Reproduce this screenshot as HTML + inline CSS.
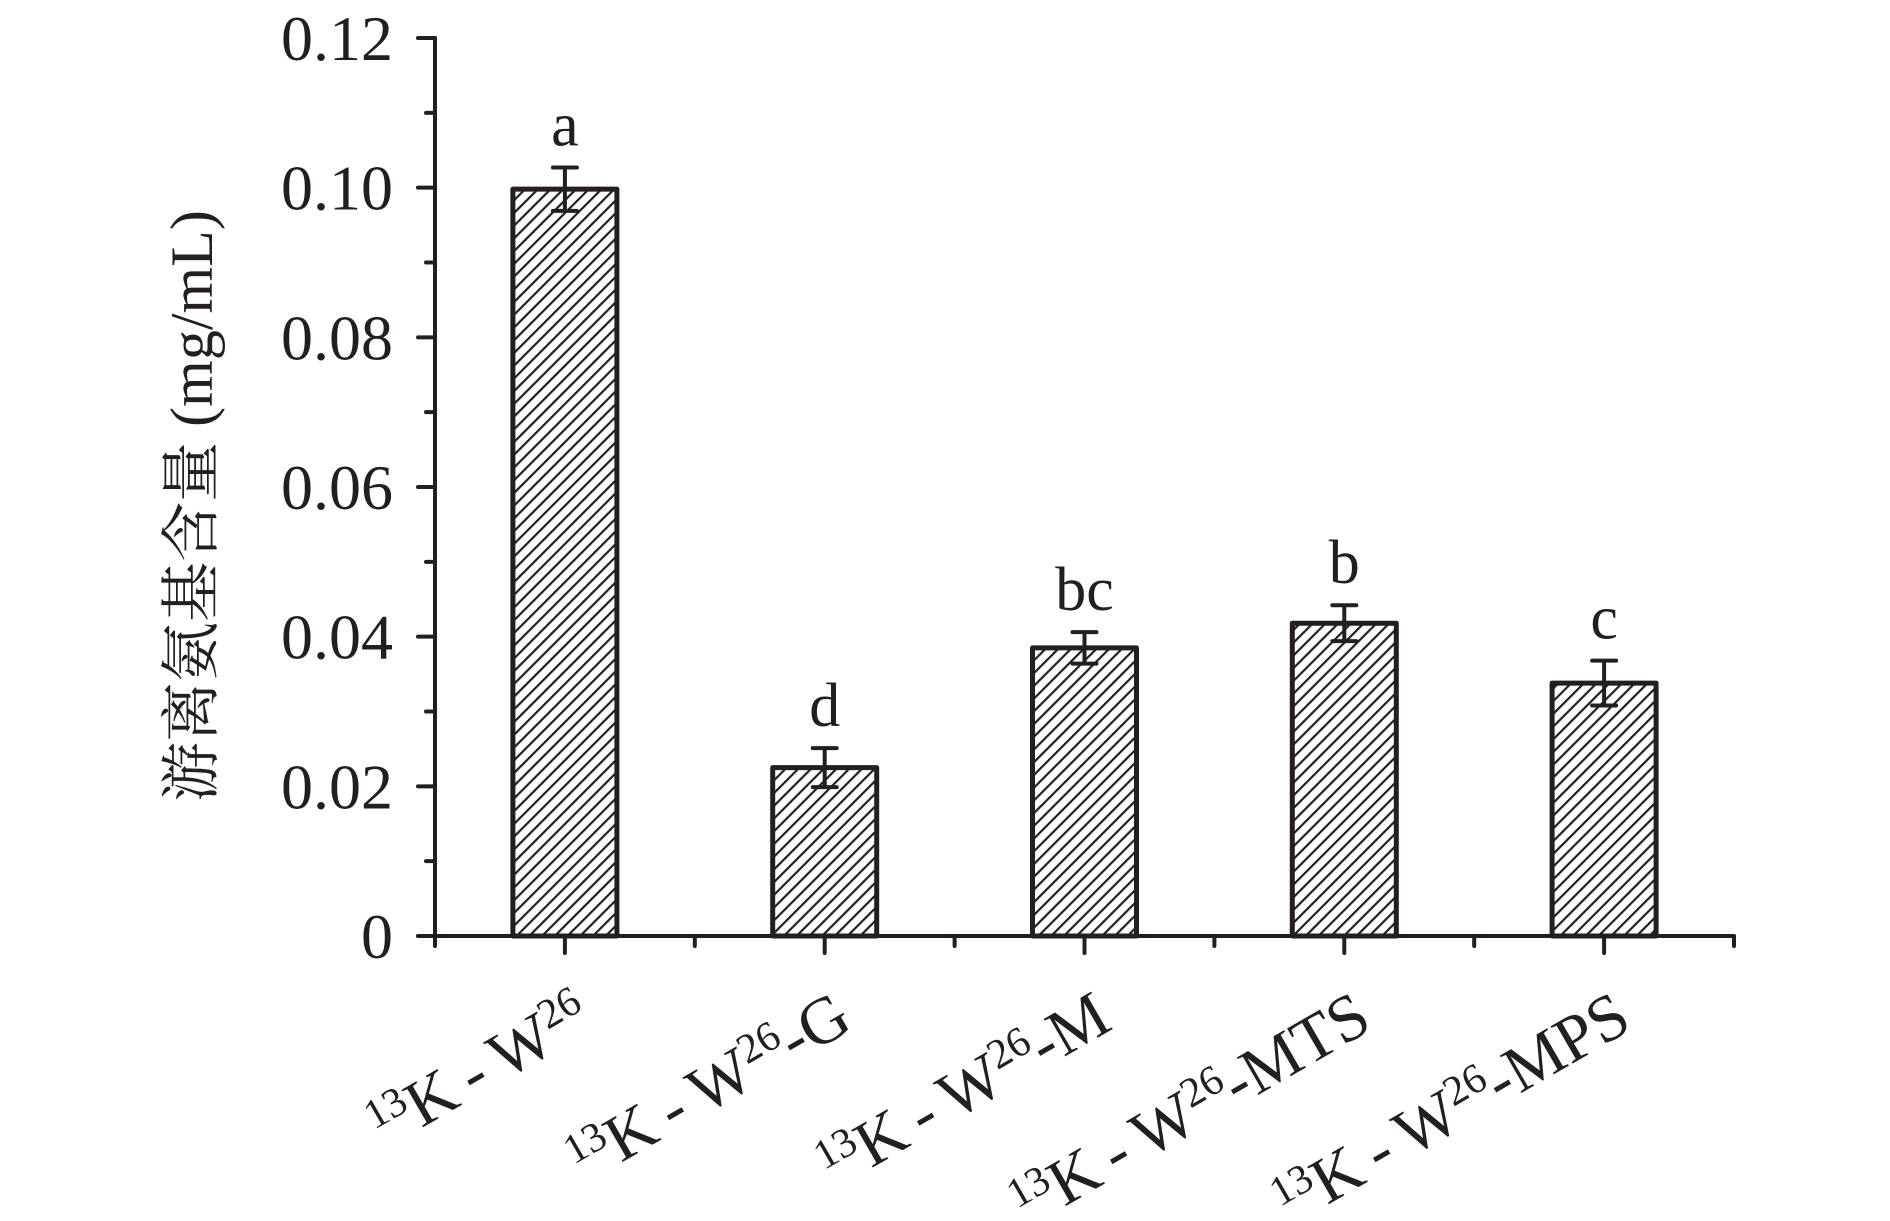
<!DOCTYPE html>
<html><head><meta charset="utf-8"><style>
html,body{margin:0;padding:0;background:#fff;}
svg{display:block;}
text{font-family:"Liberation Serif","Noto Serif CJK SC",serif;fill:#231f20;}
</style></head><body>
<svg id="chart" width="1890" height="1221" viewBox="0 0 1890 1221" xmlns="http://www.w3.org/2000/svg">
<defs>
<pattern id="hatch" patternUnits="userSpaceOnUse" width="9" height="9" patternTransform="rotate(45)">
<rect width="9" height="9" fill="#fff"/>
<line x1="0" y1="0" x2="0" y2="9" stroke="#231f20" stroke-width="4.4"/>
</pattern>
</defs>
<g id="axes"></g>
<g id="bars"></g>
<g id="xlabels"></g>
<text transform="translate(212,506) rotate(-90)" text-anchor="middle" font-size="60">游离氨基含量 (mg/mL)</text>
</svg>
<script>
const categories = ["13K-W26", "13K-W26-G", "13K-W26-M", "13K-W26-MTS", "13K-W26-MPS"];
const values = [0.0998, 0.0225, 0.0385, 0.0418, 0.0338];
const errors = [0.0029, 0.0026, 0.0021, 0.0024, 0.0030];
const letters = ["a", "d", "bc", "b", "c"];
const yTicks = [0, 0.02, 0.04, 0.06, 0.08, 0.10, 0.12];
const yTickLabels = ["0", "0.02", "0.04", "0.06", "0.08", "0.10", "0.12"];

const NS = "http://www.w3.org/2000/svg";
const X0 = 435, X1 = 1734, Y0 = 936, Y1 = 38, YMAX = 0.12;
const slot = (X1 - X0) / categories.length;
function y(v){ return Y0 - (v / YMAX) * (Y0 - Y1); }
function xc(i){ return X0 + slot * (i + 0.5); }
function mk(tag, attrs, parent){ const e = document.createElementNS(NS, tag); for (const k in attrs) e.setAttribute(k, attrs[k]); parent.appendChild(e); return e; }
const axes = document.getElementById('axes');
const bars = document.getElementById('bars');
const xl = document.getElementById('xlabels');
const st = {stroke:"#231f20", "stroke-width":4, "stroke-linecap":"round"};

let ya = mk('line', Object.assign({x1:X0, y1:Y1, x2:X0, y2:Y0}, st), axes);


let xa = mk('line', Object.assign({x1:418, y1:Y0, x2:X1, y2:Y0}, st), axes);



yTicks.forEach((v, i) => {
  const t = mk('line', Object.assign({x1:X0-17, y1:y(v), x2:X0, y2:y(v)}, st), axes);
  
  
  const lb = mk('text', {x:393, y:y(v)+22, "text-anchor":"end", "font-size":64}, axes);
  lb.textContent = yTickLabels[i];
  
  
  if (i < yTicks.length - 1) {
    const mv = (v + yTicks[i+1]) / 2;
    const m = mk('line', Object.assign({x1:X0-9, y1:y(mv), x2:X0, y2:y(mv)}, st), axes);
    
    
  }
});
for (let i = 0; i <= categories.length; i++) {
  const m = mk('line', Object.assign({x1:X0+slot*i, y1:Y0, x2:X0+slot*i, y2:Y0+10}, st), axes);
  
  
}

const bw = 104;
categories.forEach((c, i) => {
  const cx = xc(i);
  const t = mk('line', Object.assign({x1:cx, y1:Y0, x2:cx, y2:Y0+17}, st), axes);
  
  
  const b = mk('rect', {x:cx-bw/2, y:y(values[i]), width:bw, height:Y0-y(values[i]), fill:"url(#hatch)", stroke:"#231f20", "stroke-width":5, "stroke-linejoin":"round"}, bars);
  
  
  const top = y(values[i] + errors[i]), bot = y(values[i] - errors[i]);
  const e = mk('path', Object.assign({d:`M${cx},${top}V${bot}M${cx-12},${top}H${cx+12}M${cx-12},${bot}H${cx+12}`, fill:"none"}, st), bars);
  
  
  const l = mk('text', {x:cx, y:top-22, "text-anchor":"middle", "font-size":62}, bars);
  l.textContent = letters[i];
  
  
  const tx = mk('text', {transform:`translate(${cx+30},1028) rotate(-30)`, "text-anchor":"end", "font-size":66}, xl);
  
  
  const parts = [["13", true], ["K\u2009-\u2009W", false], ["26", true]];
  const rest = c.replace("13K-W26", "");
  if (rest) parts.push([rest, false]);
  parts.forEach((p, k) => {
    const s = mk('tspan', p[1] ? {"font-size":42, dy: k === 0 ? "-22" : "-22"} : {"font-size":66, dy: "22"}, tx);
    s.textContent = p[0];
  });
});
</script>
</body></html>
